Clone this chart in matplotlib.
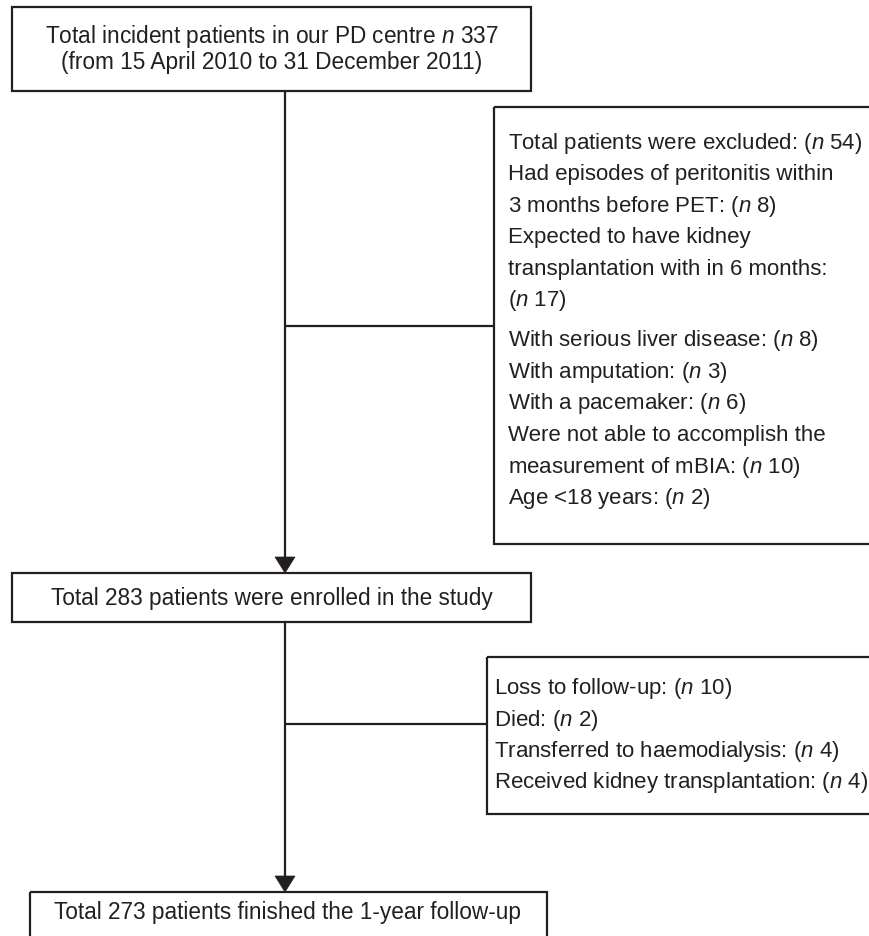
import matplotlib
matplotlib.use("Agg")
import matplotlib.pyplot as plt
from matplotlib.patches import Rectangle, Polygon

plt.rcParams['font.family'] = ['Liberation Sans', 'DejaVu Sans']
plt.rcParams['mathtext.fontset'] = 'custom'
plt.rcParams['mathtext.rm'] = 'Liberation Sans'
plt.rcParams['mathtext.it'] = 'Liberation Sans:italic'

# ---- content ----
box1_lines = ["Total incident patients in our PD centre $n$ 337",
              "(from 15 April 2010 to 31 December 2011)"]
box2_text = "Total 283 patients were enrolled in the study"
box3_text = "Total 273 patients finished the 1-year follow-up"
excl1_lines = ["Total patients were excluded: ($n$ 54)",
               "Had episodes of peritonitis within",
               "3 months before PET: ($n$ 8)",
               "Expected to have kidney",
               "transplantation with in 6 months:",
               "($n$ 17)",
               "With serious liver disease: ($n$ 8)",
               "With amputation: ($n$ 3)",
               "With a pacemaker: ($n$ 6)",
               "Were not able to accomplish the",
               "measurement of mBIA: ($n$ 10)",
               "Age <18 years: ($n$ 2)"]
excl2_lines = ["Loss to follow-up: ($n$ 10)",
               "Died: ($n$ 2)",
               "Transferred to haemodialysis: ($n$ 4)",
               "Received kidney transplantation: ($n$ 4)"]

W, H = 870, 937
fig = plt.figure(figsize=(W / 100, H / 100), dpi=100)
ax = fig.add_axes([0, 0, 1, 1])
ax.set_xlim(0, W)
ax.set_ylim(H, 0)
ax.axis('off')

ink = '#231f20'
lw = 1.6
fs = 16.3
fs_small = 16.0

def box(x0, y0, x1, y1):
    ax.add_patch(Rectangle((x0, y0), x1 - x0, y1 - y0, fill=False,
                           edgecolor=ink, linewidth=lw, zorder=2))

def arrow_down(x, y_tip):
    ax.add_patch(Polygon([(x - 10, y_tip - 16), (x + 10, y_tip - 16), (x, y_tip)],
                         closed=True, facecolor=ink, edgecolor=ink, linewidth=0.5, zorder=3))

cx = 285

# Box 1
box(12, 8, 531, 92)
ax.text(272, 37, box1_lines[0], ha='center', va='center', fontsize=fs, color=ink)
ax.text(272, 63, box1_lines[1], ha='center', va='center', fontsize=fs, color=ink)

# main vertical line 1
ax.plot([cx, cx], [92, 560], color=ink, lw=lw, solid_capstyle='butt')
arrow_down(cx, 574)
ax.plot([cx, 494], [327, 327], color=ink, lw=lw, solid_capstyle='butt')

# Exclusion box 1
box(494, 108, 920, 545)
y = 143
for i, line in enumerate(excl1_lines):
    ax.text(508, y, line, ha='left', va='center', fontsize=fs_small, color=ink)
    y += 31.6
    if i == 5:
        y += 8

# Box 2
box(12, 574, 531, 623)
ax.text(272, 599, box2_text, ha='center', va='center', fontsize=fs, color=ink)

ax.plot([cx, cx], [623, 878], color=ink, lw=lw, solid_capstyle='butt')
arrow_down(cx, 893)
ax.plot([cx, 487], [725, 725], color=ink, lw=lw, solid_capstyle='butt')

# Exclusion box 2
box(487, 658, 920, 815)
y = 689
for line in excl2_lines:
    ax.text(494, y, line, ha='left', va='center', fontsize=fs_small, color=ink)
    y += 31.3

# Box 3
box(30, 893, 547, 960)
ax.text(288, 913, box3_text, ha='center', va='center', fontsize=fs, color=ink)

fig.savefig('out.png', dpi=100)
